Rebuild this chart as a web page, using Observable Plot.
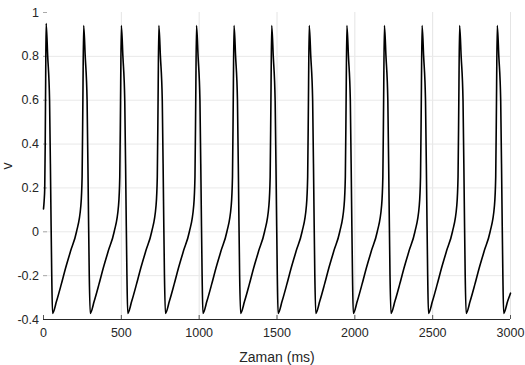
<!DOCTYPE html>
<html>
<head>
<meta charset="utf-8">
<script src="https://cdn.jsdelivr.net/npm/d3@7"></script>
<script src="https://cdn.jsdelivr.net/npm/@observablehq/plot@0.6"></script>
<style>
  body { margin: 0; background: #fff; }
  svg { display: block; }
  [aria-label="x-axis label"], [aria-label="y-axis label"] { font-size: 14px; }
</style>
</head>
<body>
<div id="chart"></div>
<script>
const xTicks = [0, 500, 1000, 1500, 2000, 2500, 3000];
const xTickLabels = ["0", "500", "1000", "1500", "2000", "2500", "3000"];
const yTicks = [-0.4, -0.2, 0, 0.2, 0.4, 0.6, 0.8, 1];
const yTickLabels = ["-0.4", "-0.2", "0", "0.2", "0.4", "0.6", "0.8", "1"];

// Membrane variable v over time (ms), cycle by cycle
const timeMs = [
  0, 4, 8, 11, 14, 17, 27, 39, 47, 53,
  58, 84, 114, 142, 174, 212, 240, 248, 253, 258, 268, 280, 288, 294,
  300, 326, 356, 384, 416, 454, 482, 490, 495, 500, 510, 522, 530, 536,
  541, 567, 597, 625, 657, 695, 723, 731, 736, 741, 751, 763, 771, 777,
  783, 809, 839, 867, 899, 937, 965, 973, 978, 983, 993, 1005, 1013, 1019,
  1024, 1050, 1080, 1108, 1140, 1178, 1206, 1214, 1219, 1224, 1234, 1246, 1254, 1260,
  1266, 1292, 1322, 1350, 1382, 1420, 1448, 1456, 1461, 1466, 1476, 1488, 1496, 1502,
  1507, 1533, 1563, 1591, 1623, 1661, 1689, 1697, 1702, 1707, 1717, 1729, 1737, 1743,
  1749, 1775, 1805, 1833, 1865, 1903, 1931, 1939, 1944, 1949, 1959, 1971, 1979, 1985,
  1990, 2016, 2046, 2074, 2106, 2144, 2172, 2180, 2185, 2190, 2200, 2212, 2220, 2226,
  2232, 2258, 2288, 2316, 2348, 2386, 2414, 2422, 2427, 2432, 2442, 2454, 2462, 2468,
  2473, 2499, 2529, 2557, 2589, 2627, 2655, 2663, 2668, 2673, 2683, 2695, 2703, 2709,
  2715, 2741, 2771, 2799, 2831, 2869, 2897, 2905, 2910, 2915, 2925, 2937, 2945, 2951,
  2956, 2982, 3000
];
const voltage = [
  0.104, 0.14, 0.2, 0.4, 0.7, 0.95, 0.8, 0.6, 0.14, -0.2,
  -0.372, -0.316, -0.24, -0.165, -0.088, 0, 0.12, 0.25, 0.6, 0.94, 0.8, 0.6, 0.14, -0.2,
  -0.372, -0.316, -0.24, -0.165, -0.088, 0, 0.12, 0.25, 0.6, 0.94, 0.8, 0.6, 0.14, -0.2,
  -0.372, -0.316, -0.24, -0.165, -0.088, 0, 0.12, 0.25, 0.6, 0.94, 0.8, 0.6, 0.14, -0.2,
  -0.372, -0.316, -0.24, -0.165, -0.088, 0, 0.12, 0.25, 0.6, 0.94, 0.8, 0.6, 0.14, -0.2,
  -0.372, -0.316, -0.24, -0.165, -0.088, 0, 0.12, 0.25, 0.6, 0.94, 0.8, 0.6, 0.14, -0.2,
  -0.372, -0.316, -0.24, -0.165, -0.088, 0, 0.12, 0.25, 0.6, 0.94, 0.8, 0.6, 0.14, -0.2,
  -0.372, -0.316, -0.24, -0.165, -0.088, 0, 0.12, 0.25, 0.6, 0.94, 0.8, 0.6, 0.14, -0.2,
  -0.372, -0.316, -0.24, -0.165, -0.088, 0, 0.12, 0.25, 0.6, 0.94, 0.8, 0.6, 0.14, -0.2,
  -0.372, -0.316, -0.24, -0.165, -0.088, 0, 0.12, 0.25, 0.6, 0.94, 0.8, 0.6, 0.14, -0.2,
  -0.372, -0.316, -0.24, -0.165, -0.088, 0, 0.12, 0.25, 0.6, 0.94, 0.8, 0.6, 0.14, -0.2,
  -0.372, -0.316, -0.24, -0.165, -0.088, 0, 0.12, 0.25, 0.6, 0.94, 0.8, 0.6, 0.14, -0.2,
  -0.372, -0.316, -0.24, -0.165, -0.088, 0, 0.12, 0.25, 0.6, 0.94, 0.8, 0.6, 0.14, -0.2,
  -0.372, -0.316, -0.28
];

const data = timeMs.map((t, i) => ({t, v: voltage[i]}));

const chart = Plot.plot({
  width: 525,
  height: 365,
  marginLeft: 43,
  marginRight: 15,
  marginTop: 12,
  marginBottom: 46,
  style: {
    fontFamily: "'Liberation Sans', Arial, sans-serif",
    fontSize: "12.5px",
    color: "#262626",
    background: "#fff"
  },
  x: {domain: [0, 3000]},
  y: {domain: [-0.4, 1]},
  marks: [
    Plot.gridX(xTicks.slice(1), {stroke: "#e4e4e4", strokeOpacity: 1}),
    Plot.gridY(yTicks.slice(1, -1), {stroke: "#e9e9e9", strokeOpacity: 1}),
    Plot.axisX(xTicks, {tickSize: 4, dy: -4, tickFormat: () => "", label: null, stroke: "#555"}),
    Plot.axisY(yTicks, {tickSize: 4, dx: 4, tickFormat: () => "", label: null, stroke: "#aaa"}),
    Plot.axisX(xTicks, {
      tickSize: 0, tickPadding: 9, fill: "#262626",
      tickFormat: d => xTickLabels[xTicks.indexOf(d)],
      label: "Zaman (ms)", labelAnchor: "center", labelOffset: 42, labelArrow: false
    }),
    Plot.axisY(yTicks, {
      tickSize: 0, tickPadding: 4.5, fill: "#262626",
      tickFormat: d => yTickLabels[yTicks.indexOf(d)],
      label: "v", labelAnchor: "center", labelOffset: 41, labelArrow: false
    }),
    Plot.ruleY([yTicks[0]], {stroke: "#262626", strokeWidth: 1}),
    Plot.line(data, {x: "t", y: "v", stroke: "#000", strokeWidth: 1.6, curve: "monotone-x"})
  ]
});
document.getElementById("chart").appendChild(chart);
</script>
</body>
</html>
